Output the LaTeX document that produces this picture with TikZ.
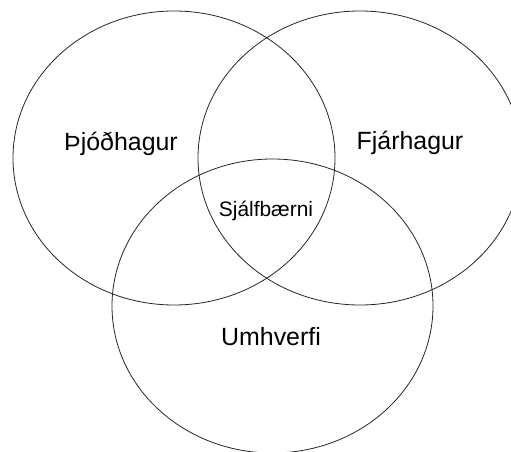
\documentclass[tikz,border=0pt]{standalone}
\usepackage{fontspec}
\setmainfont{Liberation Sans}
\begin{document}
\begin{tikzpicture}[x=1bp,y=-1bp,
  venn/.style={draw=black!85,line width=0.8bp},
  lbl/.style={anchor=base,inner sep=0pt,font=\fontsize{25}{30}\selectfont},
  lblsmall/.style={anchor=base,inner sep=0pt,font=\fontsize{21}{25}\selectfont}]
\useasboundingbox (0,0) rectangle (511,452);
\clip (0,0) rectangle (511,452);
\fill[white] (0,0) rectangle (511,452);
\draw[venn] (174,158) ellipse [x radius=161, y radius=147];
\draw[venn] (360,158) ellipse [x radius=162, y radius=147];
\draw[venn] (272.5,306) ellipse [x radius=160.5, y radius=147];
\node[lbl] (thjod) at (121,151) {Þjóðhagur};
\node[lbl] (fjar) at (410,150) {Fjárhagur};
\node[lblsmall] (sjalf) at (266,217) {Sjálfbærni};
\node[lbl] (umh) at (271,345) {Umhverfi};
\end{tikzpicture}
\end{document}
